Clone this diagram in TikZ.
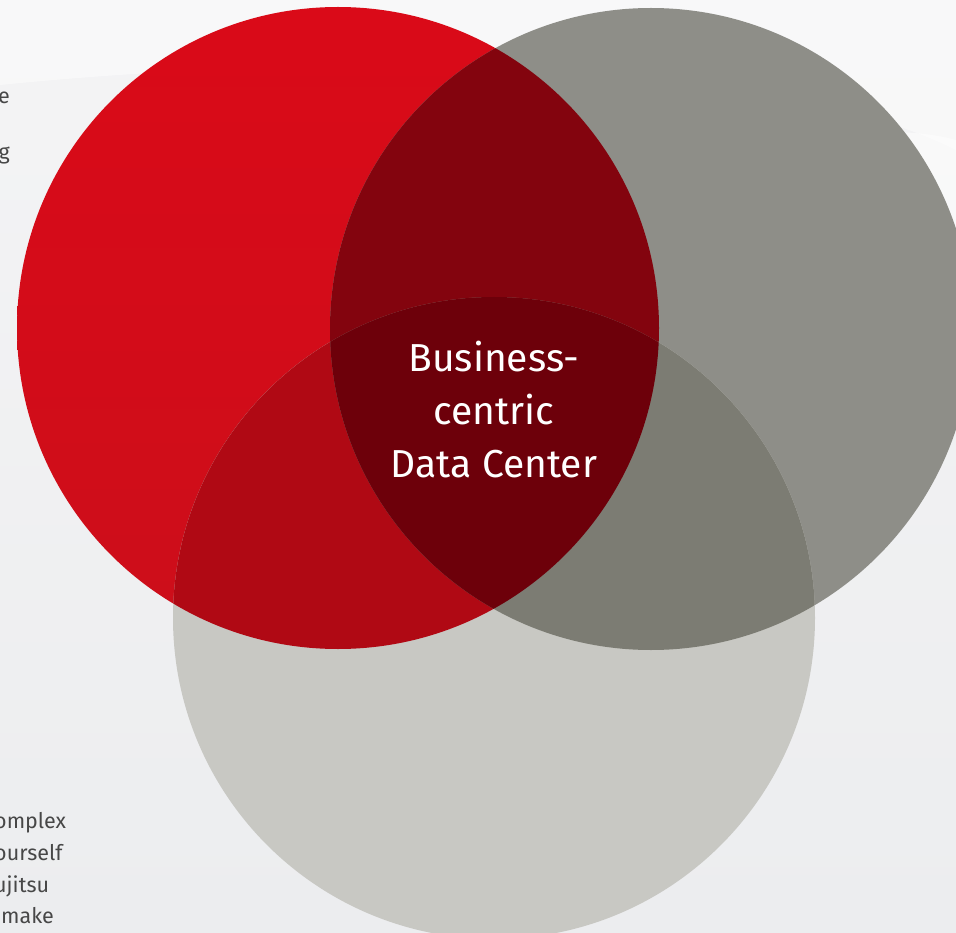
\documentclass[tikz,border=0pt]{standalone}
\usepackage{fontspec}
\setmainfont{Fira Sans}
\begin{document}
\begin{tikzpicture}[x=1pt,y=-1pt,
  lbl/.style={text=black!72, font=\fontsize{21.5}{32}\selectfont, inner sep=0pt}]
\definecolor{bgA}{HTML}{F4F4F5}
\definecolor{bgB}{HTML}{ECEDEF}
\definecolor{credA}{HTML}{DA0A18}
\definecolor{credB}{HTML}{CC0E1A}
\definecolor{cgray}{HTML}{8E8E88}
\definecolor{clight}{HTML}{C8C8C3}
\definecolor{crg}{HTML}{83040E}
\definecolor{crb}{HTML}{B00914}
\definecolor{cgb}{HTML}{7C7C73}
\definecolor{call}{HTML}{6D000A}
\useasboundingbox (0,0) rectangle (956,933);
\shade[top color=bgA, bottom color=bgB] (0,0) rectangle (956,933);
\fill[white, opacity=0.45] (0,85) .. controls (400,45) and (800,70) .. (956,150) -- (956,0) -- (0,0) -- cycle;
\fill[white, opacity=0.5] (700,190) .. controls (820,200) and (900,215) .. (956,240) -- (956,140) .. controls (880,120) and (800,140) .. (700,190) -- cycle;
% circles
\shade[top color=credA, bottom color=credB] (338,328) circle[radius=321pt];
\fill[cgray] (651,329) circle[radius=321pt];
\fill[clight] (494,618) circle[radius=321pt];
\begin{scope}
  \clip (338,328) circle[radius=321pt];
  \fill[crg] (651,329) circle[radius=321pt];
  \fill[crb] (494,618) circle[radius=321pt];
\end{scope}
\begin{scope}
  \clip (651,329) circle[radius=321pt];
  \fill[cgb] (494,618) circle[radius=321pt];
  \clip (338,328) circle[radius=321pt];
  \fill[call] (494,618) circle[radius=321pt];
\end{scope}
\node[text=white, align=center, font=\fontsize{39}{53}\selectfont, inner sep=0pt] (center) at (494,410) {Business-\\centric\\Data Center};
% cut-off side texts
\node[lbl, anchor=base east] (t1) at (10,104) {e};
\node[lbl, anchor=base east] (t2) at (10,160) {g};
\node[lbl, anchor=base west] (t3) at (-6,828) {omplex};
\node[lbl, anchor=base west] (t4) at (-6,860) {ourself};
\node[lbl, anchor=base west] (t5) at (-6,892) {ujitsu};
\node[lbl, anchor=base west] (t6) at (1,923) {make};
\end{tikzpicture}
\end{document}
